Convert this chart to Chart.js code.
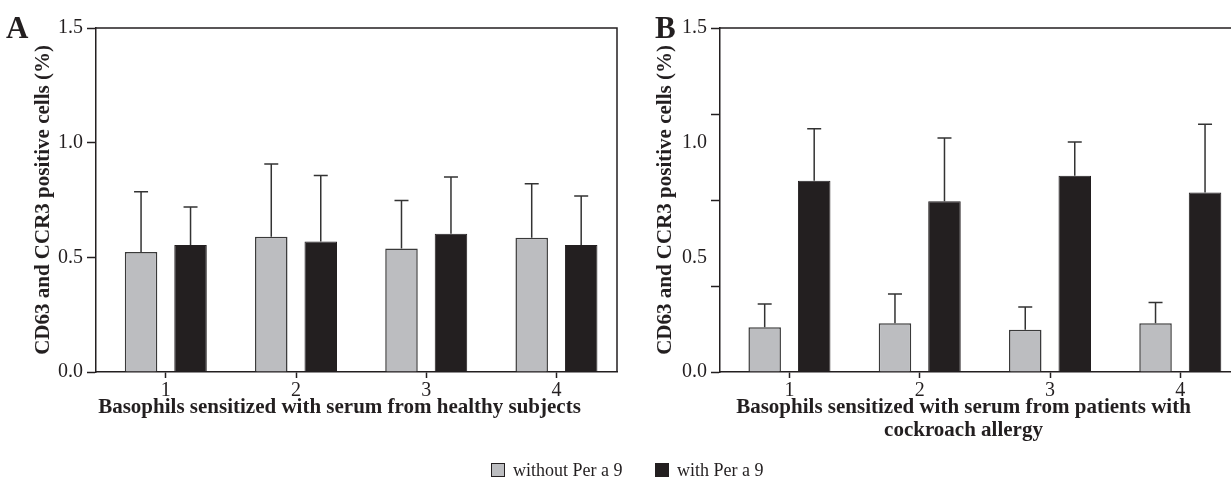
<!DOCTYPE html>
<html>
<head>
<meta charset="utf-8">
<script src="https://cdn.jsdelivr.net/npm/chart.js@4"></script>
<style>
html, body { margin: 0; padding: 0; background: #fff; overflow: hidden; }
#wrap { position: relative; width: 1231px; height: 478px; overflow: hidden; }
#chartA { position: absolute; left: 0; top: 0; }
#chartB { position: absolute; left: 620px; top: 0; }
.item { position: absolute; top: 460px; height: 20px; display: flex; align-items: center;
        font-family: 'Liberation Serif', serif; font-size: 18px; color: #231f20; white-space: nowrap; }
.box { width: 12px; height: 12px; border: 1px solid #231f20; margin-right: 8px; }
</style>
</head>
<body>
<div id="wrap">
  <canvas id="chartA" width="620" height="478"></canvas>
  <canvas id="chartB" width="625" height="478"></canvas>
  <div class="item" style="left:491px"><span class="box" style="background:#bcbdc0"></span><span id="lg0"></span></div>
  <div class="item" style="left:655px"><span class="box" style="background:#231f20"></span><span id="lg1"></span></div>
</div>
<script>
// Data
const groups = [1, 2, 3, 4];
const seriesNames = ['without Per a 9', 'with Per a 9'];

// Panel A - healthy subjects
const healthyWithout = [0.523, 0.590, 0.539, 0.585];
const healthyWith = [0.554, 0.569, 0.603, 0.554];
const healthyWithoutSD = [0.263, 0.317, 0.209, 0.236];
const healthyWithSD = [0.166, 0.288, 0.247, 0.213];

// Panel B - cockroach allergy patients
const allergyWithout = [0.195, 0.213, 0.184, 0.213];
const allergyWith = [0.834, 0.745, 0.856, 0.783];
const allergyWithoutSD = [0.101, 0.127, 0.099, 0.090];
const allergyWithSD = [0.227, 0.275, 0.147, 0.297];

// y axis ticks (labels and tick marks differ in panel B)
const yLabelsA = [0, 0.5, 1.0, 1.5];
const yMarksA = [0, 0.5, 1.0, 1.5];
const yLabelsB = [0, 0.5, 1.0, 1.5];
const yMarksB = [0, 0.375, 0.75, 1.125, 1.5];

const yTitle = 'CD63 and CCR3 positive cells (%)';
const xTitleA = ['Basophils sensitized with serum from healthy subjects'];
const xTitleB = ['Basophils sensitized with serum from patients with', 'cockroach allergy'];

const ink = '#231f20';
const grey = '#bcbdc0';
const serif = 'Liberation Serif';

document.getElementById('lg0').textContent = seriesNames[0];
document.getElementById('lg1').textContent = seriesNames[1];

// error bars: upper whisker with cap
const errorBars = {
    id: 'errorBars',
    afterDatasetsDraw(chart) {
        const ctx = chart.ctx;
        const y = chart.scales.y;
        chart.data.datasets.forEach((ds, i) => {
            chart.getDatasetMeta(i).data.forEach((bar, j) => {
                const top = y.getPixelForValue(ds.data[j].y + ds.sd[j]);
                ctx.save();
                ctx.strokeStyle = '#333';
                ctx.lineWidth = 1.5;
                ctx.beginPath();
                ctx.moveTo(bar.x, bar.y);
                ctx.lineTo(bar.x, top);
                ctx.moveTo(bar.x - 7, top);
                ctx.lineTo(bar.x + 7, top);
                ctx.stroke();
                ctx.restore();
            });
        });
    }
};

// frame, panel letter and x axis title
const panelDeco = {
    id: 'panelDeco',
    afterDraw(chart, args, opts) {
        const ctx = chart.ctx;
        const a = chart.chartArea;
        ctx.save();
        ctx.strokeStyle = ink;
        ctx.lineWidth = 1.5;
        ctx.beginPath();
        ctx.moveTo(a.left, a.top);
        ctx.lineTo(a.right, a.top);
        ctx.lineTo(a.right, a.bottom);
        ctx.stroke();

        ctx.fillStyle = ink;
        ctx.font = 'bold 31px "' + serif + '"';
        ctx.textBaseline = 'alphabetic';
        ctx.textAlign = 'left';
        ctx.fillText(opts.letter, opts.letterX, 38);

        ctx.font = 'bold 21px "' + serif + '"';
        ctx.textAlign = 'center';
        ctx.textBaseline = 'middle';
        const cx = (a.left + a.right) / 2 + opts.shift;
        opts.title.forEach((line, i) => ctx.fillText(line, cx, 408 + i * 23));
        ctx.restore();
    }
};

function makeChart(id, cfg) {
    const tickFont = { family: serif, size: 20 };
    return new Chart(document.getElementById(id), {
        type: 'bar',
        data: {
            datasets: [
                {
                    label: seriesNames[0],
                    data: groups.map((g, i) => ({ x: g, y: cfg.without[i] })),
                    sd: cfg.withoutSD,
                    backgroundColor: grey,
                    borderColor: '#3a3a3a',
                    borderWidth: 1.5
                },
                {
                    label: seriesNames[1],
                    data: groups.map((g, i) => ({ x: g, y: cfg.with[i] })),
                    sd: cfg.withSD,
                    backgroundColor: ink,
                    borderColor: ink,
                    borderWidth: 1
                }
            ]
        },
        options: {
            responsive: false,
            animation: false,
            categoryPercentage: 0.76,
            barPercentage: 0.657,
            layout: { padding: { left: 0, right: cfg.padRight, top: 28, bottom: 0 } },
            plugins: {
                legend: { display: false },
                tooltip: { enabled: false },
                panelDeco: { letter: cfg.letter, letterX: cfg.letterX, title: cfg.xTitle, shift: -17 }
            },
            scales: {
                x: {
                    type: 'linear',
                    min: cfg.xMin,
                    max: cfg.xMax,
                    offset: false,
                    afterBuildTicks: s => { s.ticks = groups.map(v => ({ value: v })); },
                    afterFit: s => { s.height = 106; },
                    ticks: { font: tickFont, color: ink, padding: 1, callback: v => String(v) },
                    grid: { drawOnChartArea: false, offset: false, tickLength: 6, tickColor: ink, tickWidth: 1.5 },
                    border: { color: ink, width: 1.5 }
                },
                y: {
                    min: 0,
                    max: 1.5,
                    afterBuildTicks: s => {
                        const vals = [...new Set([...cfg.yLabels, ...cfg.yMarks])].sort((p, q) => p - q);
                        s.ticks = vals.map(v => ({ value: v }));
                    },
                    afterFit: s => { s.width = cfg.yWidth; },
                    ticks: {
                        font: tickFont,
                        color: ink,
                        padding: 4,
                        autoSkip: false,
                        callback: v => cfg.yLabels.includes(v) ? v.toFixed(1) : ''
                    },
                    grid: {
                        drawOnChartArea: false,
                        tickLength: 9,
                        tickWidth: 1.5,
                        tickColor: c => cfg.yMarks.includes(c.tick.value) ? ink : 'rgba(0,0,0,0)'
                    },
                    border: { color: ink, width: 1.5 },
                    title: {
                        display: true,
                        text: yTitle,
                        color: ink,
                        font: { family: serif, size: 21, weight: 'bold' },
                        padding: { top: cfg.yTitlePad, bottom: 0 }
                    }
                }
            }
        },
        plugins: [errorBars, panelDeco]
    });
}

makeChart('chartA', {
    without: healthyWithout, with: healthyWith,
    withoutSD: healthyWithoutSD, withSD: healthyWithSD,
    yLabels: yLabelsA, yMarks: yMarksA,
    xMin: 0.464, xMax: 4.465, yWidth: 96, padRight: 3,
    yTitlePad: 31, letter: 'A', letterX: 6, xTitle: xTitleA
});

makeChart('chartB', {
    without: allergyWithout, with: allergyWith,
    withoutSD: allergyWithoutSD, withSD: allergyWithSD,
    yLabels: yLabelsB, yMarks: yMarksB,
    xMin: 0.467, xMax: 4.466, yWidth: 100, padRight: 4,
    yTitlePad: 33, letter: 'B', letterX: 35, xTitle: xTitleB
});
</script>
</body>
</html>
